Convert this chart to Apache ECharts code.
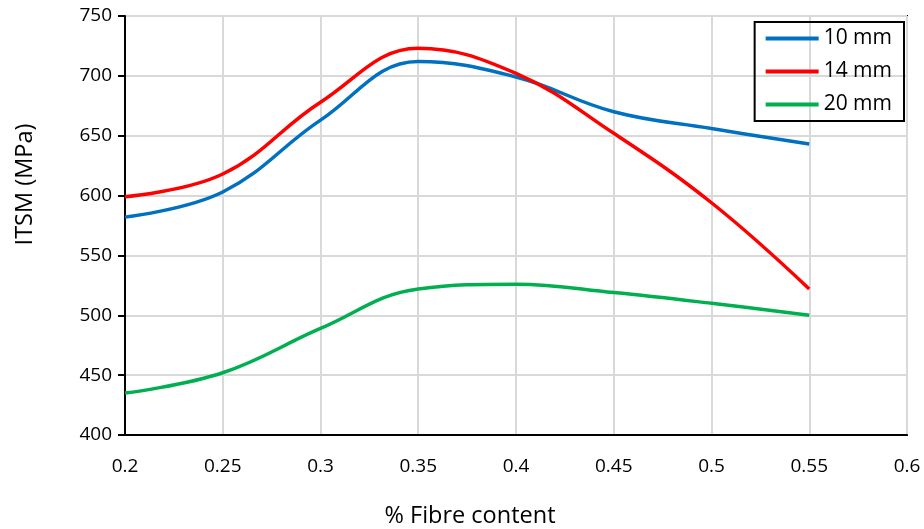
<!DOCTYPE html>
<html><head><meta charset="utf-8">
<script src="https://cdn.jsdelivr.net/npm/echarts@6/dist/echarts.min.js"></script>
<style>html,body{margin:0;padding:0;background:#fff}#c{width:924px;height:529px}</style>
</head><body><div id="c"></div>
<script>
const fibre = [0.2, 0.25, 0.3, 0.35, 0.4, 0.45, 0.5, 0.55];
const mm10 = [582, 603, 663, 712, 699, 670, 656, 643];
const mm14 = [599, 618, 678, 723, 702, 652, 594, 522];
const mm20 = [435, 452, 489, 522, 526, 519, 510, 500];
const seriesNames = ['10 mm', '14 mm', '20 mm'];
const colors = ['#0070C0', '#FF0000', '#00B050'];
const FONT = 'Open Sans';
const pairs = v => fibre.map((x, i) => [x, v[i]]);
const chart = echarts.init(document.getElementById('c'));
chart.setOption({
  animation: false,
  grid: {left: 125, right: 17, top: 16, bottom: 94, show: true, borderColor: '#000', borderWidth: 2,
         containLabel: false, outerBoundsMode: 'none'},
  legend: {
    right: 20, top: 22, orient: 'vertical', itemWidth: 53, itemHeight: 4, itemGap: 12,
    borderColor: '#000', borderWidth: 2, padding: [6, 12, 6, 11],
    textStyle: {fontFamily: FONT, fontSize: 21, color: '#000'},
    data: seriesNames.map(n => ({name: n, icon: 'rect'}))
  },
  xAxis: {
    type: 'value', min: 0.2, max: 0.6, interval: 0.05,
    name: '% Fibre content', nameLocation: 'middle', nameGap: 69,
    nameTextStyle: {fontFamily: FONT, fontSize: 23.5, color: '#000', padding: [0, 92, 0, 0]},
    axisLine: {lineStyle: {color: '#000', width: 2}},
    axisTick: {show: false},
    axisLabel: {fontFamily: FONT, fontSize: 19, color: '#000', margin: 22, formatter: v => String(+v.toFixed(2))},
    splitLine: {show: true, lineStyle: {color: '#D9D9D9', width: 2}}
  },
  yAxis: {
    type: 'value', min: 400, max: 750, interval: 50,
    name: 'ITSM (MPa)', nameLocation: 'middle', nameGap: 88, nameRotate: 90,
    nameTextStyle: {fontFamily: FONT, fontSize: 23.5, color: '#000', padding: [0, 0, 0, 82]},
    axisLine: {show: true, lineStyle: {color: '#000', width: 2}},
    axisTick: {show: true, length: 7, lineStyle: {color: '#000', width: 2}},
    axisLabel: {fontFamily: FONT, fontSize: 19, color: '#000', margin: 13},
    splitLine: {show: true, lineStyle: {color: '#D9D9D9', width: 2}}
  },
  series: [mm10, mm14, mm20].map((v, i) => ({
    name: seriesNames[i], type: 'line', data: pairs(v), smooth: 0.4,
    showSymbol: false, color: colors[i], lineStyle: {width: 3.5, color: colors[i]}
  }))
});
</script></body></html>
